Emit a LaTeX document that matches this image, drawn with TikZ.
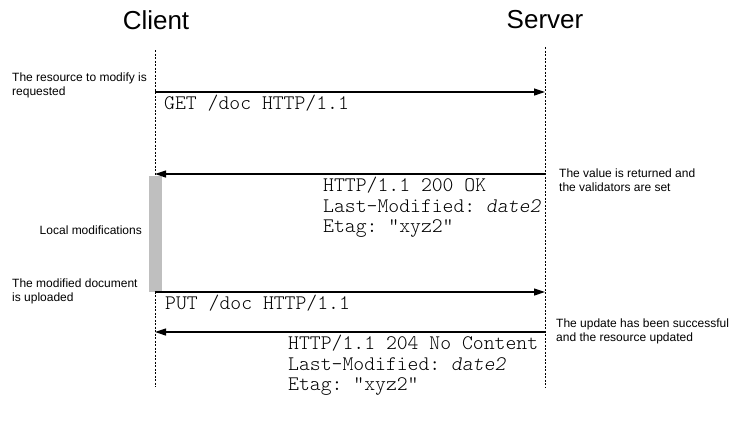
\documentclass[tikz,border=0pt]{standalone}
\usepackage{fontspec}
\setmainfont{Liberation Sans}
\setmonofont{lmmonolt10-regular.otf}[ItalicFont=lmmonolt10-oblique.otf]
\usetikzlibrary{arrows.meta}
\begin{document}
\begin{tikzpicture}[x=1pt,y=-1pt,
  title/.style={font=\fontsize{26}{29}\selectfont, inner sep=0pt},
  lifeline/.style={line width=0.9pt, dash pattern=on 2pt off 1.5pt},
  msg/.style={line width=1.2pt, -{Triangle[length=11pt,width=7pt]}},
  code/.style={font=\ttfamily\fontsize{20.7}{20.5}\selectfont, inner sep=0pt, anchor=west, align=left},
  note/.style={font=\fontsize{12}{13.5}\selectfont, inner sep=0pt, align=left},
]
\useasboundingbox (0,0) rectangle (744,421);
% titles
\node[title] (ct) at (156,20) {Client};
\node[title] (st) at (545,20) {Server};
% lifelines
\coordinate (c0) at (155,50);
\coordinate (c1) at (155,387);
\coordinate (s0) at (545,47);
\coordinate (s1) at (545,387);
\draw[lifeline] (c0) -- (c1);
\draw[lifeline] (s0) -- (s1);
% local modifications bar
\node[fill=black!25, draw=none, minimum width=13pt, minimum height=116pt, inner sep=0pt, anchor=north] (bar) at (155.5,176) {};
% messages
\coordinate (cg) at (155,92);  \coordinate (sg) at (545,92);
\coordinate (cr) at (155,174); \coordinate (sr) at (545,174);
\coordinate (cp) at (155,292); \coordinate (sp) at (545,292);
\coordinate (cu) at (155,332); \coordinate (su) at (545,332);
\draw[msg] (cg) -- (sg);
\draw[msg] (sr) -- (cr);
\draw[msg] (cp) -- (sp);
\draw[msg] (su) -- (cu);
% message texts
\node[code] (get) at (164,103) {GET /doc HTTP/1.1};
\node[code, anchor=north west] (ok) at (323,177) {HTTP/1.1 200 OK\\Last-Modified: \textit{date2}\\Etag: "xyz2"};
\node[code] (put) at (165,303) {PUT /doc HTTP/1.1};
\node[code, anchor=north west] (nc) at (288,335) {HTTP/1.1 204 No Content\\Last-Modified: \textit{date2}\\Etag: "xyz2"};
% notes
\node[note, anchor=north west] (n1) at (12,73) {The resource to modify is\\requested};
\node[note, anchor=east] (n2) at (142,230) {Local modifications};
\node[note, anchor=north west] (n3) at (12,279) {The modified document\\is uploaded};
\node[note, anchor=north west] (n4) at (559,169) {The value is returned and\\the validators are set};
\node[note, anchor=north west] (n5) at (556,319) {The update has been successful\\and the resource updated};
\end{tikzpicture}
\end{document}
